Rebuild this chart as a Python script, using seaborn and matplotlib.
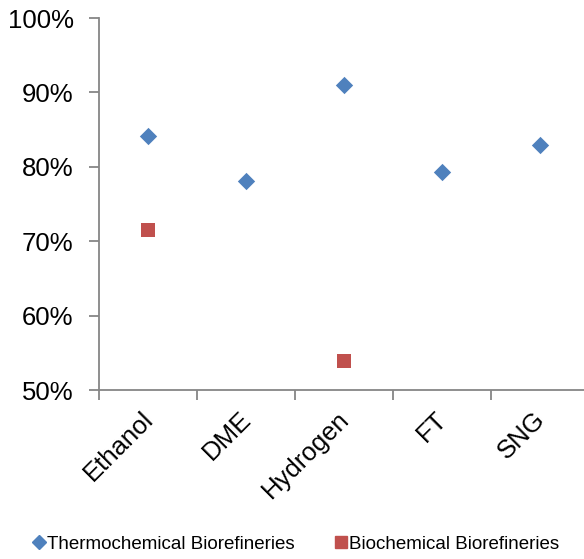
import matplotlib
matplotlib.use("Agg")
import matplotlib.pyplot as plt
import seaborn as sns
import pandas as pd
import numpy as np
from matplotlib.ticker import FuncFormatter, MultipleLocator
from matplotlib.lines import Line2D

categories = ["Ethanol", "DME", "Hydrogen", "FT", "SNG"]
thermo = [84.1, 78.1, 91.0, 79.3, 82.9]
bio = [71.5, np.nan, 53.9, np.nan, np.nan]
series_names = ["Thermochemical Biorefineries", "Biochemical Biorefineries"]
colors = ["#4F81BD", "#C0504D"]

df = pd.DataFrame({
    "cat": categories * 2,
    "pos": list(range(len(categories))) * 2,
    "val": thermo + bio,
    "series": [series_names[0]] * 5 + [series_names[1]] * 5,
}).dropna()

sns.set_style("white")
plt.rcParams["font.family"] = ["Liberation Sans", "DejaVu Sans"]
plt.rcParams["text.color"] = "black"
plt.rcParams["xtick.color"] = "black"
plt.rcParams["ytick.color"] = "black"

fig = plt.figure(figsize=(5.84, 5.59), dpi=100)
ax = fig.add_axes([98.5 / 584, 169 / 559, 1 - 98.5 / 584, 372 / 559])

sns.scatterplot(data=df[df.series == series_names[0]], x="pos", y="val",
                color=colors[0], marker="D", s=78, linewidth=0, ax=ax,
                legend=False, zorder=3)
sns.scatterplot(data=df[df.series == series_names[1]], x="pos", y="val",
                color=colors[1], marker="s", s=110, linewidth=0, ax=ax,
                legend=False, zorder=3)

ax.set_xlim(-0.5, -0.5 + 485.5 / 98)
ax.set_ylim(50, 100)
ax.yaxis.set_major_locator(MultipleLocator(10))
ax.yaxis.set_major_formatter(FuncFormatter(lambda v, p: f"{v:.0f}%"))
ax.set_xticks(np.arange(len(categories)) - 0.5)
ax.set_xticklabels([])
# label anchors nudged slightly left so rotated text ends under each category
ax.set_xticks(np.arange(len(categories)) - 0.07, minor=True)
ax.set_xticklabels(categories, minor=True, rotation=45, ha="right", va="top",
                   rotation_mode="anchor", fontsize=18.5)
ax.tick_params(axis="x", which="minor", bottom=True, length=0, pad=12.4)
ax.tick_params(axis="x", which="major", bottom=True, length=7, width=1.3,
               color="#868686", direction="out")
ax.tick_params(axis="y", left=True, length=7, width=1.3, color="#868686",
               direction="out", labelsize=18.5, pad=11, labelcolor="black")
ax.set_xlabel("")
ax.set_ylabel("")
for s in ["top", "right"]:
    ax.spines[s].set_visible(False)
for s in ["left", "bottom"]:
    ax.spines[s].set_color("#868686")
    ax.spines[s].set_linewidth(1.3)

handles = [
    Line2D([], [], marker="D", color=colors[0], linestyle="none", markersize=7),
    Line2D([], [], marker="s", color=colors[1], linestyle="none", markersize=8.5),
]
fig.legend(handles, series_names, loc="center", bbox_to_anchor=(0.505, 1 - 544 / 559),
           ncol=2, frameon=False, fontsize=13.5, handletextpad=0.0,
           columnspacing=2.0, handlelength=0.9, labelcolor="black")

fig.savefig("out.png", dpi=100)
